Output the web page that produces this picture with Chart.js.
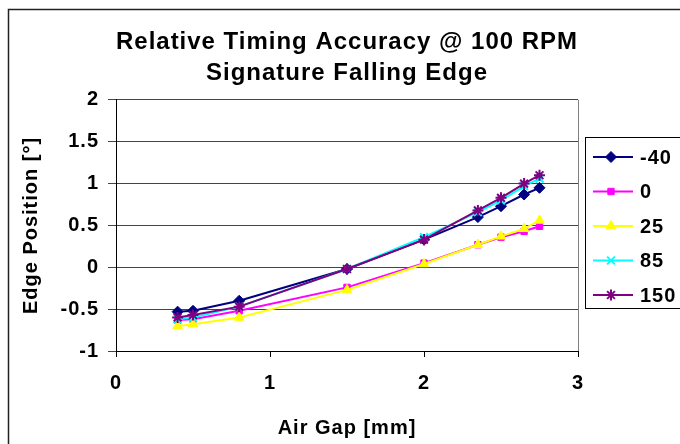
<!DOCTYPE html>
<html>
<head>
<meta charset="utf-8">
<script src="https://cdn.jsdelivr.net/npm/chart.js@4.4.0/dist/chart.umd.min.js"></script>
<style>
  html, body { margin: 0; padding: 0; background: #fff; }
  #wrap { width: 680px; height: 444px; }
</style>
</head>
<body>
<div id="wrap"><canvas id="chart" width="680" height="444"></canvas></div>
<script>
const airGap = [0.4, 0.5, 0.8, 1.5, 2.0, 2.35, 2.5, 2.65, 2.75];
const seriesNames = ['-40', '0', '25', '85', '150'];
const tMinus40 = [-0.53, -0.52, -0.40, -0.02, 0.33, 0.60, 0.73, 0.87, 0.95];
const t0 = [-0.63, -0.62, -0.52, -0.24, 0.05, 0.27, 0.36, 0.43, 0.49];
const t25 = [-0.70, -0.68, -0.60, -0.27, 0.04, 0.27, 0.37, 0.46, 0.56];
const t85 = [-0.62, -0.60, -0.47, -0.02, 0.36, 0.66, 0.80, 0.97, 1.06];
const t150 = [-0.60, -0.57, -0.47, -0.02, 0.33, 0.68, 0.83, 1.00, 1.10];
const xTicks = [0, 1, 2, 3];
const yTicks = [-1, -0.5, 0, 0.5, 1, 1.5, 2];

const colors = ['#000080', '#FF00FF', '#FFFF00', '#00FFFF', '#800080'];
const markers = ['rectRot', 'rect', 'triangle', 'crossRot', 'star'];
const allValues = [tMinus40, t0, t25, t85, t150];

const font = 'Arial, "Liberation Sans", sans-serif';

const datasets = allValues.map((vals, i) => ({
    label: seriesNames[i],
    data: vals.map((v, j) => ({ x: airGap[j], y: v })),
    borderColor: colors[i],
    backgroundColor: colors[i],
    borderWidth: 2,
    pointStyle: markers[i],
    pointRadius: markers[i] === 'rect' ? 4.5 : 5.5,
    pointBorderWidth: markers[i] === 'crossRot' || markers[i] === 'star' ? 2 : 1,
    pointHoverRadius: 5,
    order: 5 - i,
    tension: 0
}));

// wider text like the original, frame, plot border and Excel style legend
const excelLook = {
    id: 'excelLook',
    beforeUpdate(chart) { chart.ctx.letterSpacing = '1px'; },
    beforeDraw(chart) {
        const c = chart.ctx;
        c.letterSpacing = '1px';
        c.save();
        c.fillStyle = '#fff';
        c.fillRect(0, 0, chart.width, chart.height);
        c.strokeStyle = '#222';
        c.lineWidth = 1.5;
        c.strokeRect(8.5, 9.5, chart.width + 10, chart.height + 10);
        c.restore();
    },
    afterDraw(chart) {
        const c = chart.ctx;
        const a = chart.chartArea;
        c.save();
        c.strokeStyle = '#808080';
        c.lineWidth = 1;
        c.beginPath();
        c.moveTo(a.right + 0.5, a.top);
        c.lineTo(a.right + 0.5, a.bottom);
        c.stroke();

        const lx = 585, ly = 137, lw = 100, lh = 171;
        c.strokeStyle = '#000';
        c.strokeRect(lx + 0.5, ly + 0.5, lw, lh);
        c.font = 'bold 20px ' + font;
        c.textBaseline = 'middle';
        seriesNames.forEach((name, i) => {
            const y = ly + 20 + i * 34.5;
            c.strokeStyle = colors[i];
            c.lineWidth = 2;
            c.beginPath();
            c.moveTo(593, y);
            c.lineTo(633, y);
            c.stroke();
            c.fillStyle = colors[i];
            c.lineWidth = markers[i] === 'crossRot' || markers[i] === 'star' ? 2 : 1;
            Chart.helpers.drawPoint(c, {
                pointStyle: markers[i],
                radius: markers[i] === 'rect' ? 4.5 : 5.5,
                borderWidth: c.lineWidth,
                rotation: 0
            }, 611, y);
            c.fillStyle = '#000';
            c.fillText(name, 640, y + 1);
        });
        c.restore();
    }
};

new Chart(document.getElementById('chart'), {
    type: 'line',
    data: { datasets },
    plugins: [excelLook],
    options: {
        responsive: false,
        animation: false,
        layout: { padding: { left: 0, right: 102, top: 0, bottom: 0 } },
        plugins: {
            legend: { display: false },
            tooltip: { enabled: false },
            title: {
                display: true,
                fullSize: false,
                text: ['Relative Timing Accuracy @ 100 RPM', 'Signature Falling Edge'],
                color: '#000',
                font: { family: font, size: 24, weight: 'bold', lineHeight: 1.29 },
                padding: { top: 27, bottom: 11 }
            }
        },
        scales: {
            x: {
                type: 'linear',
                min: 0, max: 3,
                afterBuildTicks: s => { s.ticks = xTicks.map(v => ({ value: v })); },
                afterFit: s => { s.height = 93; },
                grid: { drawOnChartArea: false, drawTicks: true, tickLength: 6, color: '#000' },
                border: { color: '#000', width: 1 },
                ticks: {
                    color: '#000', font: { family: font, size: 20, weight: 'bold' }, padding: 14,
                    callback: v => String(v)
                },
                title: {
                    display: true, text: 'Air Gap [mm]', color: '#000',
                    font: { family: font, size: 20, weight: 'bold' }, padding: { top: 12 }
                }
            },
            y: {
                min: -1, max: 2,
                afterBuildTicks: s => { s.ticks = yTicks.map(v => ({ value: v })); },
                afterFit: s => { s.width = 116; },
                grid: { color: '#444', tickLength: 8 },
                border: { color: '#000', width: 1 },
                ticks: {
                    color: '#000', font: { family: font, size: 20, weight: 'bold' }, padding: 9,
                    callback: v => String(v)
                },
                title: {
                    display: true, text: 'Edge Position [°]', color: '#000',
                    font: { family: font, size: 20, weight: 'bold' }, padding: { top: 19, bottom: 6 }
                }
            }
        }
    }
});
</script>
</body>
</html>
